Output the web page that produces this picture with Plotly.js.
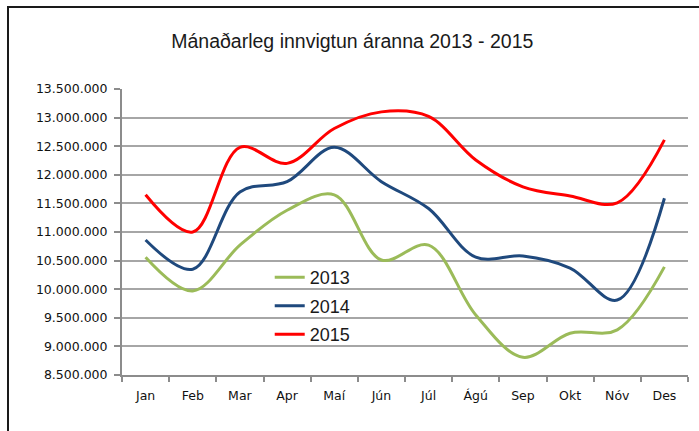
<!DOCTYPE html>
<html>
<head>
<meta charset="utf-8">
<script src="https://cdn.plot.ly/plotly-3.0.1.min.js"></script>
<style>
  html, body { margin: 0; padding: 0; background: #fff; }
  #wrap { position: relative; width: 699px; height: 431px; overflow: hidden; }
  #chart { position: absolute; left: 0; top: 0; width: 699px; height: 431px; }
  #frame { position: absolute; left: 7px; top: 6px; width: 700px; height: 440px;
           border-left: 2px solid #1a1a1a; border-top: 2px solid #1a1a1a; pointer-events: none; }
</style>
</head>
<body>
<div id="wrap">
  <div id="chart"></div>
  <div id="frame"></div>
</div>
<script>
const months = ["Jan", "Feb", "Mar", "Apr", "Maí", "Jún", "Júl", "Ágú", "Sep", "Okt", "Nóv", "Des"];
const seriesNames = ["2013", "2014", "2015"];
const values2013 = [10560000, 9970000, 10770000, 11380000, 11650000, 10510000, 10770000, 9550000, 8810000, 9230000, 9290000, 10390000];
const values2014 = [10860000, 10350000, 11700000, 11880000, 12480000, 11880000, 11410000, 10560000, 10580000, 10370000, 9810000, 11590000];
const values2015 = [11650000, 11000000, 12480000, 12200000, 12810000, 13100000, 13020000, 12260000, 11790000, 11630000, 11510000, 12610000];
const yTicks = [8500000, 9000000, 9500000, 10000000, 10500000, 11000000, 11500000, 12000000, 12500000, 13000000, 13500000];

const colors = ["#9BBB59", "#1F497D", "#FF0000"];
const allValues = [values2013, values2014, values2015];

const traces = allValues.map((vals, i) => ({
  type: "scatter",
  mode: "lines",
  name: seriesNames[i],
  legendgroup: "g" + i,
  x: months,
  y: vals,
  line: { color: colors[i], width: 3, shape: "spline", smoothing: 1 },
  hoverinfo: "x+y+name"
}));

const tickFont = { family: "DejaVu Sans, Verdana, sans-serif", size: 12.5, color: "#111111" };

const layout = {
  width: 699,
  height: 431,
  margin: { l: 122, r: 11, t: 89, b: 56 },
  paper_bgcolor: "#ffffff",
  plot_bgcolor: "#ffffff",
  separators: ",.",
  title: {
    text: "Mánaðarleg innvigtun áranna 2013 - 2015",
    font: { family: "Liberation Sans, Arial, sans-serif", size: 19.5, color: "#1a1a1a" },
    xref: "container", yref: "container",
    x: 0.504, xanchor: "center",
    y: 0.904, yanchor: "middle"
  },
  xaxis: {
    type: "category",
    categoryorder: "array",
    categoryarray: months,
    range: [-0.5, 11.5],
    tickson: "boundaries",
    ticks: "outside",
    ticklen: 5,
    tickwidth: 1.5,
    tickcolor: "#8c8c8c",
    showline: true,
    linecolor: "#8c8c8c",
    linewidth: 2,
    showgrid: false,
    zeroline: false,
    tickfont: tickFont,
    ticklabelstandoff: 8,
    fixedrange: true
  },
  yaxis: {
    range: [8500000, 13500000],
    tickvals: yTicks,
    tickformat: ",d",
    ticks: "outside",
    ticklen: 6,
    tickwidth: 1.5,
    tickcolor: "#8c8c8c",
    showline: true,
    linecolor: "#8c8c8c",
    linewidth: 2,
    showgrid: true,
    gridcolor: "#a6a6a6",
    gridwidth: 1.5,
    zeroline: false,
    tickfont: tickFont,
    ticklabelstandoff: 4,
    fixedrange: true
  },
  showlegend: true,
  legend: {
    x: 0.261, y: 0.405,
    xanchor: "left", yanchor: "top",
    bgcolor: "rgba(255,255,255,0)",
    borderwidth: 0,
    font: { family: "Liberation Sans, Arial, sans-serif", size: 18, color: "#1a1a1a" },
    tracegroupgap: 2,
    itemwidth: 30
  }
};

Plotly.newPlot("chart", traces, layout, { displayModeBar: false, staticPlot: false });
</script>
</body>
</html>
